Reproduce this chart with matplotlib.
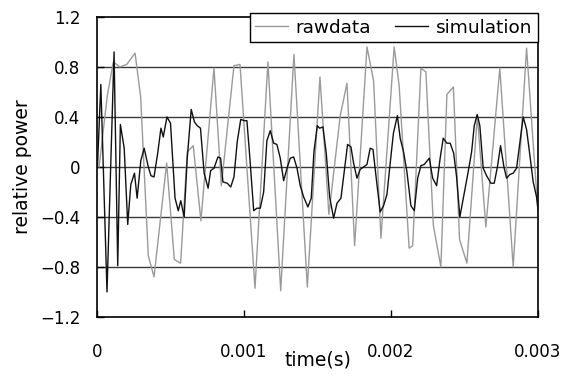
import numpy as np
import matplotlib
matplotlib.use("Agg")
import matplotlib.pyplot as plt

plt.rcParams['font.family'] = ['DejaVu Sans']

# raw measurement (time in ms, relative power)
raw_t_ms = [0.014, 0.070, 0.111, 0.156, 0.202, 0.259, 0.297, 0.349, 0.388, 0.474,
            0.526, 0.569, 0.614, 0.655, 0.707, 0.796, 0.846, 0.932, 0.973, 1.075,
            1.163, 1.250, 1.340, 1.431, 1.517, 1.578, 1.655, 1.701, 1.753, 1.837,
            1.882, 1.932, 2.022, 2.056, 2.124, 2.148, 2.204, 2.238, 2.289, 2.340,
            2.381, 2.425, 2.467, 2.517, 2.588, 2.646, 2.741, 2.832, 2.923, 3.000]
raw_p = [0.00, 0.57, 0.84, 0.80, 0.82, 0.91, 0.56, -0.71, -0.88, 0.03,
         -0.74, -0.77, 0.12, 0.17, -0.43, 0.79, -0.15, 0.81, 0.82, -0.97,
         0.84, -0.99, 0.90, -0.96, 0.72, -0.38, 0.41, 0.67, -0.63, 0.96,
         0.69, -0.57, 0.96, 0.65, -0.65, -0.63, 0.79, 0.76, -0.47, -0.80,
         0.58, 0.64, -0.58, -0.77, 0.41, -0.48, 0.79, -0.80, 0.95, -0.35]

# simulation
sim_t_ms = [0.003, 0.026, 0.068, 0.116, 0.141, 0.159, 0.185, 0.209, 0.230, 0.255,
            0.273, 0.298, 0.321, 0.347, 0.367, 0.388, 0.413, 0.435, 0.451, 0.476,
            0.500, 0.531, 0.553, 0.570, 0.593, 0.614, 0.641, 0.663, 0.682, 0.704,
            0.729, 0.756, 0.773, 0.796, 0.823, 0.841, 0.857, 0.886, 0.910, 0.932,
            0.954, 0.978, 1.003, 1.020, 1.039, 1.066, 1.088, 1.111, 1.134, 1.156,
            1.179, 1.202, 1.224, 1.247, 1.270, 1.293, 1.315, 1.338, 1.361, 1.383,
            1.406, 1.435, 1.458, 1.476, 1.499, 1.515, 1.537, 1.560, 1.583, 1.610,
            1.633, 1.660, 1.682, 1.705, 1.728, 1.746, 1.769, 1.791, 1.814, 1.837,
            1.859, 1.878, 1.900, 1.927, 1.950, 1.973, 1.995, 2.017, 2.044, 2.063,
            2.086, 2.109, 2.136, 2.159, 2.182, 2.204, 2.227, 2.261, 2.284, 2.311,
            2.335, 2.356, 2.381, 2.403, 2.427, 2.447, 2.469, 2.497, 2.524, 2.549,
            2.567, 2.587, 2.605, 2.628, 2.651, 2.680, 2.703, 2.726, 2.746, 2.769,
            2.787, 2.810, 2.832, 2.855, 2.878, 2.900, 2.923, 2.946, 2.968, 2.991,
            3.000]
sim_p = [0.00, 0.66, -1.00, 0.92, -0.79, 0.34, 0.15, -0.46, -0.14, -0.05,
         -0.25, 0.05, 0.15, 0.01, -0.07, -0.08, 0.11, 0.31, 0.24, 0.40,
         0.35, -0.25, -0.35, -0.27, -0.40, 0.07, 0.46, 0.36, 0.33, 0.31,
         -0.05, -0.17, -0.03, -0.01, 0.08, 0.07, -0.12, -0.13, -0.16, -0.08,
         0.20, 0.38, 0.37, 0.37, 0.09, -0.35, -0.33, -0.33, -0.20, 0.21,
         0.29, 0.19, 0.18, 0.07, -0.11, -0.01, 0.07, 0.08, -0.01, -0.15,
         -0.24, -0.32, -0.25, 0.12, 0.33, 0.31, 0.32, 0.11, -0.24, -0.41,
         -0.29, -0.25, -0.04, 0.18, 0.16, 0.03, -0.09, -0.02, 0.00, 0.02,
         0.15, 0.14, -0.09, -0.36, -0.31, -0.22, 0.03, 0.27, 0.41, 0.23,
         0.12, -0.04, -0.31, -0.35, -0.09, 0.01, 0.02, 0.07, -0.09, -0.15,
         0.07, 0.23, 0.19, 0.19, 0.11, -0.08, -0.40, -0.22, -0.05, 0.12,
         0.33, 0.42, 0.33, -0.01, -0.07, -0.13, -0.13, 0.01, 0.17, 0.00,
         -0.09, -0.06, -0.05, -0.01, 0.20, 0.40, 0.30, 0.09, -0.12, -0.24,
         -0.33]

x_ticks = [0, 0.001, 0.002, 0.003]
x_tick_labels = ['0', '0.001', '0.002', '0.003']
y_ticks = [-1.2, -0.8, -0.4, 0, 0.4, 0.8, 1.2]
y_tick_labels = ['\u22121.2', '\u22120.8', '\u22120.4', '0', '0.4', '0.8', '1.2']

fig = plt.figure(figsize=(5.65, 3.76), dpi=100)
ax = fig.add_axes([0.1717, 0.157, 0.7803, 0.798])

for y in [-0.8, -0.4, 0, 0.4, 0.8]:
    ax.axhline(y, color='#3a3a3a', lw=1.0, zorder=1)

ax.plot(np.array(raw_t_ms) / 1000, raw_p, color='#9a9a9a', lw=1.0, label='rawdata', zorder=2)
ax.plot(np.array(sim_t_ms) / 1000, sim_p, color='#111111', lw=1.0, label='simulation', zorder=3)

ax.set_xlim(0, 0.003)
ax.set_ylim(-1.2, 1.2)
ax.set_xticks(x_ticks)
ax.set_xticklabels(x_tick_labels)
ax.set_yticks(y_ticks)
ax.set_yticklabels(y_tick_labels)
ax.tick_params(axis='both', direction='in', labelsize=12, length=5, width=1)
ax.tick_params(axis='x', pad=19)
ax.tick_params(axis='y', pad=12)
for s in ax.spines.values():
    s.set_linewidth(1.2)
    s.set_color('black')

ax.set_xlabel('time(s)', fontsize=13.5, labelpad=-8)
ax.set_ylabel('relative power', fontsize=13.5, labelpad=6)

leg = ax.legend(loc='upper right', bbox_to_anchor=(1.0, 1.012), ncol=2, fontsize=13.3,
                frameon=True, fancybox=False, edgecolor='black', framealpha=1,
                borderaxespad=0, handlelength=1.8, columnspacing=1.3,
                handletextpad=0.4, borderpad=0.3)
leg.get_frame().set_linewidth(1.0)
leg.set_zorder(5)

fig.savefig('out.png', dpi=100)
